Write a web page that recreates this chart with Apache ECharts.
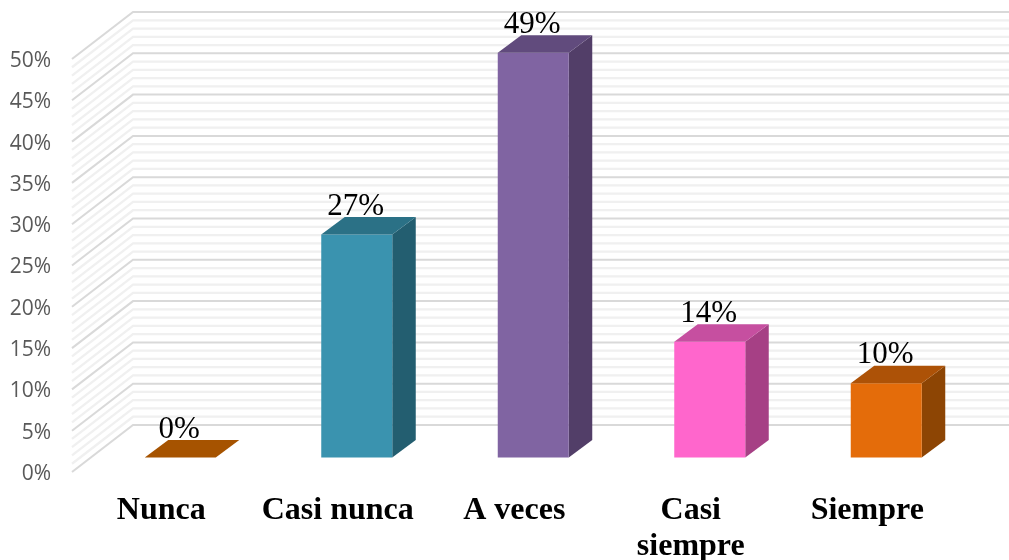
<!DOCTYPE html>
<html><head><meta charset="utf-8">
<style>html,body{margin:0;padding:0;background:#fff}#c{width:1009px;height:560px}</style>
<script src="https://cdn.jsdelivr.net/npm/echarts@6/dist/echarts.min.js"></script>
</head><body><div id="c"></div>
<script>
const categories = ['Nunca','Casi nunca','A veces','Casi\nsiempre','Siempre'];
const values = [0,27,49,14,9];
const valueLabels = ['0%','27%','49%','14%','10%'];
const frontColors = ['#E46C0A','#3A93AF','#8064A2','#FF66CC','#E46C0A'];
const topColors = ['#A65300','#2B7186','#614B7D','#C64FA0','#AD5207'];
const sideColors = ['#8D4504','#235E70','#523E68','#A64085','#8D4504'];
const wallTicks = [];
for (let t = 0; t <= 50; t++) wallTicks.push(t);

const WALL_DX = 61, WALL_DY = 47, BAR_DX = 23.5, BAR_DY = 17.5;
const BAR_SHIFT_X = 19, BAR_SHIFT_Y = 14.5, BAR_W = 71, LABEL_DX = -1, LABEL_DY = -28;
const RIGHT_EDGE = 1009;

function renderWall(params, api) {
  const v = api.value(0);
  const p = api.coord([0, v]);
  const x0 = params.coordSys.x - 1;
  const major = v % 5 === 0;
  const st = { stroke: major ? '#D9D9D9' : '#F0F0F0', lineWidth: major ? 2 : 2.25, fill: null };
  return {
    type: 'polyline',
    z2: major ? 2 : 1,
    shape: { points: [[x0, p[1]], [x0 + WALL_DX, p[1] - WALL_DY], [RIGHT_EDGE, p[1] - WALL_DY]] },
    style: st
  };
}

function renderBar(params, api) {
  const i = params.dataIndex;
  const c = api.coord([api.value(0), api.value(1)]);
  const b = api.coord([api.value(0), 0]);
  const x0 = c[0] + BAR_SHIFT_X - BAR_W / 2, x1 = x0 + BAR_W;
  const yt = c[1] - BAR_SHIFT_Y, yb = b[1] - BAR_SHIFT_Y;
  const children = [];
  if (yb - yt > 0.5) {
    children.push({ type: 'polygon', shape: { points: [[x1, yt], [x1 + BAR_DX, yt - BAR_DY], [x1 + BAR_DX, yb - BAR_DY], [x1, yb]] }, style: { fill: sideColors[i] } });
    children.push({ type: 'rect', shape: { x: x0, y: yt, width: BAR_W, height: yb - yt }, style: { fill: frontColors[i] } });
  }
  children.push({ type: 'polygon', shape: { points: [[x0, yt], [x1, yt], [x1 + BAR_DX, yt - BAR_DY], [x0 + BAR_DX, yt - BAR_DY]] }, style: { fill: topColors[i] } });
  children.push({ type: 'text', x: c[0] + BAR_SHIFT_X + LABEL_DX, y: yt + LABEL_DY, style: { text: valueLabels[i], fill: '#000', font: '31px "Liberation Serif"', align: 'center', verticalAlign: 'middle' } });
  return { type: 'group', children };
}

const chart = echarts.init(document.getElementById('c'), null, { renderer: 'canvas' });
chart.setOption({
  animation: false,
  backgroundColor: '#fff',
  grid: { left: 73, top: 59, width: 882.5, height: 413, outerBoundsMode: 'none', containLabel: false },
  xAxis: {
    type: 'category', data: categories,
    axisLine: { show: false }, axisTick: { show: false }, splitLine: { show: false },
    axisLabel: { margin: 21, interval: 0, color: '#000', fontFamily: 'Liberation Serif', fontWeight: 'bold', fontSize: 32, lineHeight: 36, align: 'center', verticalAlign: 'top' }
  },
  yAxis: {
    type: 'value', min: 0, max: 50, interval: 5,
    axisLine: { show: false }, axisTick: { show: false }, splitLine: { show: false },
    axisLabel: {
      margin: 22, color: '#595959',
      formatter: '{a|{value}%}',
      rich: { a: { color: '#595959', fontFamily: 'Open Sans', fontSize: 21, padding: [4, 0, 0, 0] } }
    }
  },
  series: [
    { type: 'custom', silent: true, clip: false, z: 1, data: wallTicks.map(t => [t]), encode: { y: 0 }, renderItem: renderWall },
    { type: 'custom', silent: true, clip: false, z: 2, data: values.map((v, i) => [i, v]), encode: { x: 0, y: 1 }, renderItem: renderBar }
  ]
});
</script></body></html>
